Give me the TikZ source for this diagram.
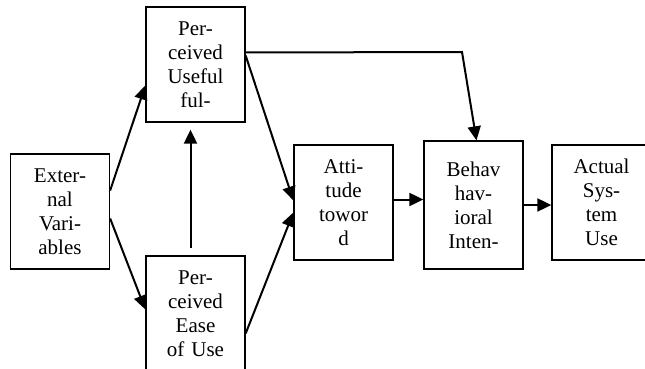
\documentclass[tikz,border=0pt]{standalone}
\usepackage{fontspec}
\setmainfont{Liberation Serif}
\usetikzlibrary{arrows.meta}

\begin{document}
\begin{tikzpicture}[x=1pt,y=-1pt,
		box/.style={draw, line width=1.3pt, minimum width=99pt, minimum height=115pt, text width=97pt, align=center, inner sep=0pt, font=\fontsize{21}{24}\selectfont},
		link/.style={line width=2pt, -{Triangle[length=14pt,width=13pt]}}]
		\useasboundingbox (0,0) rectangle (645,369);
		% boxes
		\node[box] (ext) at (60,211.5) {Exter-\\nal\\Vari-\\ables};
		\node[box] (pu) at (195.5,64.5) {Per-\\ceived\\Useful\\ful-};
		\node[box] (peou) at (195.5,313.5) {Per-\\ceived\\Ease\\of Use};
		\node[box] (att) at (343.5,202.5) {Atti-\\tude\\towor\\d};
		\node[box, minimum height=128pt] (beh) at (473.5,205) {Behav\\hav-\\ioral\\Inten-};
		\node[box] (act) at (601.5,202.5) {Actual\\Sys-\\tem\\Use};
		\coordinate (bend) at (462,52);
		
		% arrows
		\draw[link] ([yshift=21pt]ext.east) -- ([yshift=-21pt]pu.west);
		\draw[link] ([yshift=-7pt]ext.east) -- ([yshift=4pt]peou.west);
		\draw[link, shorten <=7pt, shorten >=7pt] ([xshift=-5pt]peou.north) -- ([xshift=-5pt]pu.south);
		\draw[link] ([yshift=9pt]pu.east) -- ([yshift=2pt]att.west);
		\draw[link] ([yshift=-20pt]peou.east) -- ([yshift=-10pt]att.west);
		\draw[link] ([yshift=12pt]pu.east) -- (bend) -- ([xshift=3pt]beh.north);
		\draw[link] ([yshift=3pt]att.east) -- ([yshift=3pt]att.east -| beh.west);
		\draw[link] (beh.east) -- (beh.east -| act.west);
		
\end{tikzpicture}
\end{document}
